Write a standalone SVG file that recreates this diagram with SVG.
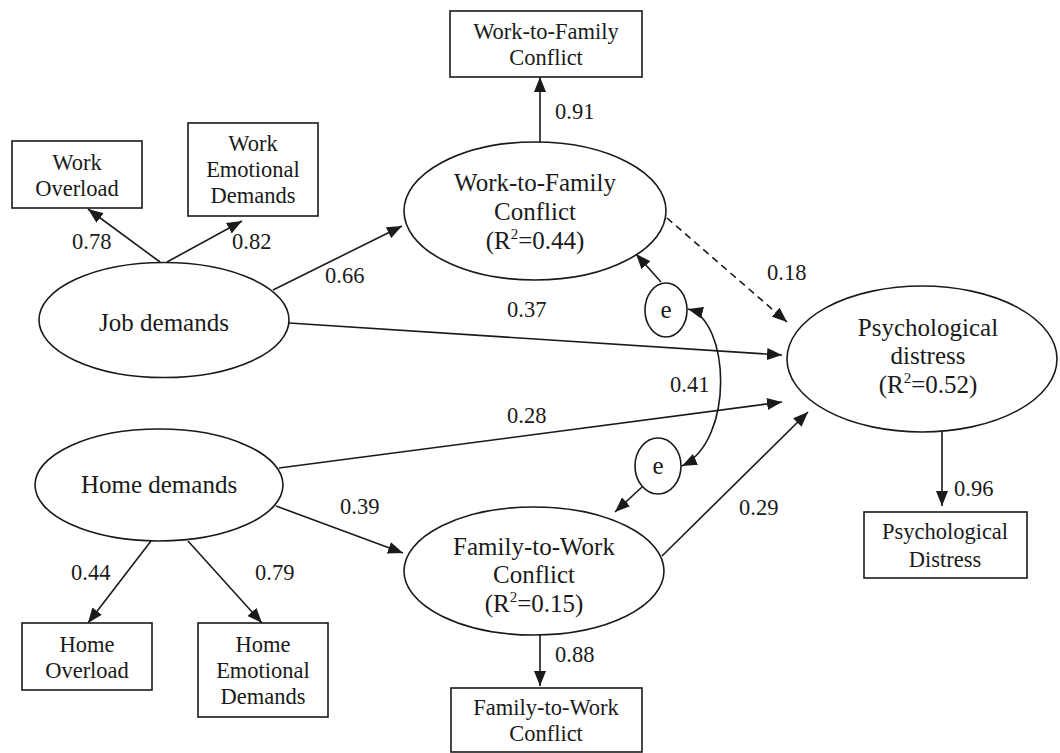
<svg xmlns="http://www.w3.org/2000/svg" width="1060" height="753" viewBox="0 0 1060 753" font-family="'Liberation Serif', 'Times New Roman', 'DejaVu Serif', serif">
<defs>
<marker id="ah" markerUnits="userSpaceOnUse" markerWidth="16" markerHeight="12" refX="15" refY="6" orient="auto-start-reverse">
<path d="M0,0 L15,6 L0,12 z" fill="#1a1a1a"/>
</marker>
<style>
.box{fill:#fff;stroke:#1a1a1a;stroke-width:1.6}
.ell{fill:#fff;stroke:#1a1a1a;stroke-width:1.6}
.bt{font-size:22.5px;fill:#1a1a1a;text-anchor:middle}
.et{font-size:25px;fill:#1a1a1a;text-anchor:middle}
.lb{font-size:22.5px;fill:#1a1a1a}
.c{fill:none;stroke:#1a1a1a;stroke-width:1.6;marker-end:url(#ah)}
.d{stroke-dasharray:7,5}
</style>
</defs>
<rect width="1060" height="753" fill="#fff"/>
<g id="connectors">
<line class="c" x1="160" y1="262" x2="88" y2="209"/>
<line class="c" x1="167" y1="262" x2="242" y2="221"/>
<line class="c" x1="273" y1="290" x2="402" y2="226"/>
<line class="c" x1="289" y1="323" x2="782" y2="355"/>
<line class="c" x1="279" y1="468" x2="782" y2="402"/>
<line class="c" x1="276" y1="506" x2="403" y2="553"/>
<line class="c" x1="151" y1="541" x2="88" y2="623"/>
<line class="c" x1="188" y1="541" x2="262" y2="623"/>
<line class="c" x1="540" y1="142" x2="540" y2="77"/>
<line class="c d" x1="667" y1="218" x2="787" y2="322"/>
<line class="c" x1="661" y1="282" x2="636" y2="254"/>
<line class="c" x1="642" y1="487" x2="615" y2="512"/>
<path class="c" style="marker-start:url(#ah)" d="M688,309 C730,320 735,440 682,466"/>
<line class="c" x1="662" y1="556" x2="808" y2="412"/>
<line class="c" x1="540" y1="635" x2="540" y2="686"/>
<line class="c" x1="942" y1="432" x2="942" y2="506"/>
<text class="lb" x="72" y="249">0.78</text>
<text class="lb" x="232" y="249">0.82</text>
<text class="lb" x="325" y="283">0.66</text>
<text class="lb" x="507" y="317">0.37</text>
<text class="lb" x="555" y="119">0.91</text>
<text class="lb" x="767" y="280">0.18</text>
<text class="lb" x="670" y="392">0.41</text>
<text class="lb" x="507" y="423">0.28</text>
<text class="lb" x="340" y="514">0.39</text>
<text class="lb" x="739" y="515">0.29</text>
<text class="lb" x="71" y="580">0.44</text>
<text class="lb" x="255" y="580">0.79</text>
<text class="lb" x="555" y="662">0.88</text>
<text class="lb" x="954" y="496">0.96</text>
</g>
<g id="work-overload">
<rect class="box" x="12" y="141" width="130" height="67"/>
<text class="bt" x="77" y="170">Work</text>
<text class="bt" x="77" y="196">Overload</text>
</g>
<g id="work-emotional-demands">
<rect class="box" x="188" y="123" width="130" height="93"/>
<text class="bt" x="253" y="151">Work</text>
<text class="bt" x="253" y="177">Emotional</text>
<text class="bt" x="253" y="203">Demands</text>
</g>
<g id="wfc-indicator">
<rect class="box" x="450" y="11" width="192" height="66"/>
<text class="bt" x="546" y="39">Work-to-Family</text>
<text class="bt" x="546" y="65">Conflict</text>
</g>
<g id="home-overload">
<rect class="box" x="22" y="623" width="130" height="67"/>
<text class="bt" x="87" y="652">Home</text>
<text class="bt" x="87" y="678">Overload</text>
</g>
<g id="home-emotional-demands">
<rect class="box" x="198" y="623" width="130" height="94"/>
<text class="bt" x="263" y="652">Home</text>
<text class="bt" x="263" y="678">Emotional</text>
<text class="bt" x="263" y="704">Demands</text>
</g>
<g id="fwc-indicator">
<rect class="box" x="451" y="688" width="191" height="64"/>
<text class="bt" x="546" y="715">Family-to-Work</text>
<text class="bt" x="546" y="741">Conflict</text>
</g>
<g id="psych-indicator">
<rect class="box" x="864" y="512" width="163" height="66"/>
<text class="bt" x="945" y="539">Psychological</text>
<text class="bt" x="945" y="567">Distress</text>
</g>
<g id="job-demands">
<ellipse class="ell" cx="164" cy="320" rx="125" ry="57.5"/>
<text class="et" x="164" y="331">Job demands</text>
</g>
<g id="home-demands">
<ellipse class="ell" cx="159" cy="485" rx="124" ry="56"/>
<text class="et" x="159" y="493">Home demands</text>
</g>
<g id="wfc">
<ellipse class="ell" cx="535" cy="211" rx="131" ry="69"/>
<text class="et" x="535" y="191">Work-to-Family</text>
<text class="et" x="535" y="220">Conflict</text>
<text class="et" x="535" y="249">(R<tspan font-size="15" dy="-10">2</tspan><tspan dy="10">=0.44)</tspan></text>
</g>
<g id="fwc">
<ellipse class="ell" cx="534" cy="571" rx="130" ry="64"/>
<text class="et" x="534" y="555">Family-to-Work</text>
<text class="et" x="534" y="583">Conflict</text>
<text class="et" x="534" y="612">(R<tspan font-size="15" dy="-10">2</tspan><tspan dy="10">=0.15)</tspan></text>
</g>
<g id="psych">
<ellipse class="ell" cx="922" cy="359" rx="135" ry="73"/>
<text class="et" x="928" y="336">Psychological</text>
<text class="et" x="928" y="364">distress</text>
<text class="et" x="928" y="393">(R<tspan font-size="15" dy="-10">2</tspan><tspan dy="10">=0.52)</tspan></text>
</g>
<g id="e-wfc">
<ellipse class="ell" cx="666" cy="310" rx="21" ry="27"/>
<text class="et" x="666" y="318">e</text>
</g>
<g id="e-fwc">
<ellipse class="ell" cx="658" cy="466" rx="23" ry="28"/>
<text class="et" x="658" y="474">e</text>
</g>
</svg>
